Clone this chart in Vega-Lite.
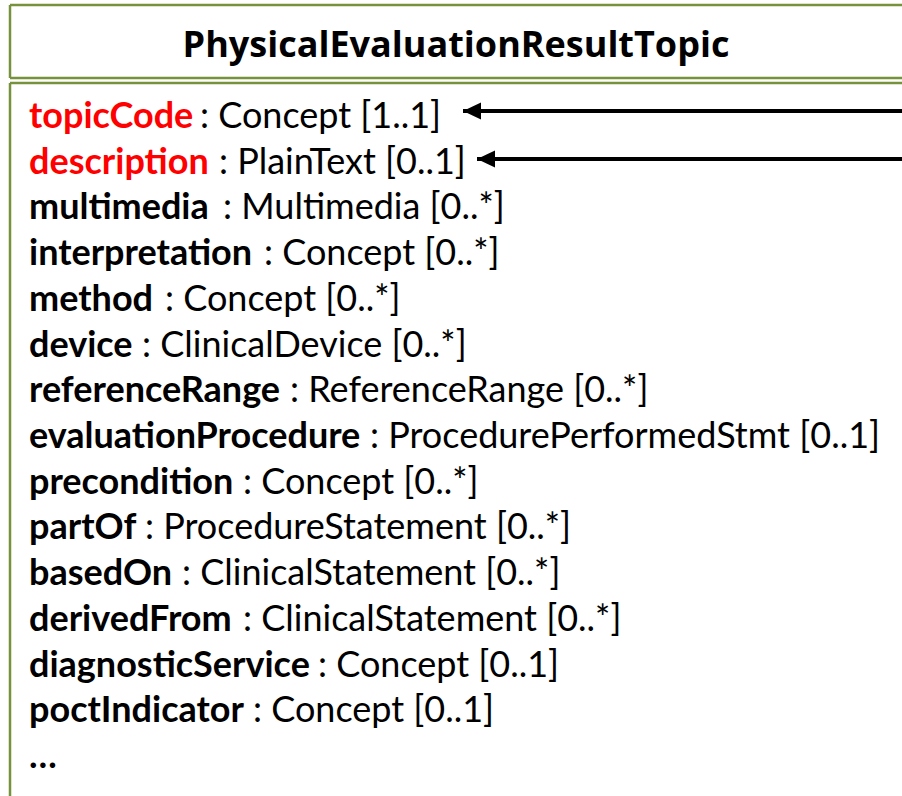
{
  "$schema": "https://vega.github.io/schema/vega-lite/v6.json",
  "width": 902,
  "height": 796,
  "padding": 0,
  "autosize": {"type": "none"},
  "background": "white",
  "config": {"view": {"stroke": null}, "font": "Lato"},
  "datasets": {
    "attrs": [
      {"line": 0, "name": "topicCode", "type": ": Concept [1..1]", "typeX": 200, "key": "yes"},
      {"line": 1, "name": "description", "type": ": PlainText [0..1]", "typeX": 219, "key": "yes"},
      {"line": 2, "name": "multimedia", "type": ": Multimedia [0..*]", "typeX": 223, "key": "no"},
      {"line": 3, "name": "interpretation", "type": ": Concept [0..*]", "typeX": 264, "key": "no"},
      {"line": 4, "name": "method", "type": ": Concept [0..*]", "typeX": 165, "key": "no"},
      {"line": 5, "name": "device", "type": ": ClinicalDevice [0..*]", "typeX": 142, "key": "no"},
      {"line": 6, "name": "referenceRange", "type": ": ReferenceRange [0..*]", "typeX": 290, "key": "no"},
      {"line": 7, "name": "evaluationProcedure", "type": ": ProcedurePerformedStmt [0..1]", "typeX": 370, "key": "no"},
      {"line": 8, "name": "precondition", "type": ": Concept [0..*]", "typeX": 243, "key": "no"},
      {"line": 9, "name": "partOf", "type": ": ProcedureStatement [0..*]", "typeX": 145, "key": "no"},
      {"line": 10, "name": "basedOn", "type": ": ClinicalStatement [0..*]", "typeX": 182, "key": "no"},
      {"line": 11, "name": "derivedFrom", "type": ": ClinicalStatement [0..*]", "typeX": 243, "key": "no"},
      {"line": 12, "name": "diagnosticService", "type": ": Concept [0..1]", "typeX": 318, "key": "no"},
      {"line": 13, "name": "poctIndicator", "type": ": Concept [0..1]", "typeX": 253, "key": "no"},
      {"line": 14, "name": "…", "type": "", "typeX": 60, "key": "no"}
    ],
    "borders": [
      {"part": "title top", "x": 10, "x2": 902, "y": 5, "y2": 5},
      {"part": "title left", "x": 10, "x2": 10, "y": 5, "y2": 78},
      {"part": "title bottom", "x": 10, "x2": 902, "y": 78, "y2": 78},
      {"part": "body top", "x": 10, "x2": 902, "y": 83, "y2": 83},
      {"part": "body left", "x": 10, "x2": 10, "y": 83, "y2": 796}
    ],
    "arrows": [
      {"target": "topicCode", "tip": 463, "x2": 902, "y": 111},
      {"target": "description", "tip": 477, "x2": 902, "y": 159}
    ]
  },
  "resolve": {"scale": {"y": "independent"}},
  "layer": [
    {
      "data": {"name": "borders"},
      "mark": {"type": "rule", "stroke": "#76923C", "strokeWidth": 2.5},
      "encoding": {
        "x": {"field": "x", "type": "quantitative", "scale": {"domain": [0, 902], "range": [0, 902]}, "axis": null},
        "x2": {"field": "x2"},
        "y": {"field": "y", "type": "quantitative", "scale": {"domain": [0, 796], "range": [0, 796]}, "axis": null},
        "y2": {"field": "y2"}
      }
    },
    {
      "data": {"name": "arrows"},
      "mark": {"type": "rule", "stroke": "#000000", "strokeWidth": 4},
      "encoding": {
        "x": {"field": "tip", "type": "quantitative", "scale": {"domain": [0, 902], "range": [0, 902]}, "axis": null},
        "x2": {"field": "x2"},
        "y": {"field": "y", "type": "quantitative", "scale": {"domain": [0, 796], "range": [0, 796]}, "axis": null}
      }
    },
    {
      "data": {"name": "arrows"},
      "mark": {"type": "point", "shape": "M0,0 L2,-0.95 L2,0.95 Z", "filled": true, "fill": "#000000", "stroke": null, "size": 324, "opacity": 1},
      "encoding": {
        "x": {"field": "tip", "type": "quantitative", "scale": {"domain": [0, 902], "range": [0, 902]}, "axis": null},
        "y": {"field": "y", "type": "quantitative", "scale": {"domain": [0, 796], "range": [0, 796]}, "axis": null}
      }
    },
    {
      "data": {"values": [{"title": "PhysicalEvaluationResultTopic"}]},
      "mark": {"type": "text", "font": "Open Sans", "fontWeight": "bold", "fontSize": 36, "align": "center", "baseline": "alphabetic", "color": "#000000"},
      "encoding": {
        "x": {"datum": 456, "type": "quantitative", "scale": {"domain": [0, 902], "range": [0, 902]}, "axis": null},
        "y": {"datum": 57, "type": "quantitative", "scale": {"domain": [0, 796], "range": [0, 796]}, "axis": null},
        "text": {"field": "title"}
      }
    },
    {
      "data": {"name": "attrs"},
      "mark": {"type": "text", "font": "Lato", "fontWeight": "bold", "fontSize": 36, "align": "left", "baseline": "alphabetic"},
      "encoding": {
        "x": {"datum": 29, "type": "quantitative", "scale": {"domain": [0, 902], "range": [0, 902]}, "axis": null},
        "y": {"field": "line", "type": "quantitative", "scale": {"domain": [0, 14], "range": [128, 768]}, "axis": null},
        "text": {"field": "name"},
        "color": {"field": "key", "type": "nominal", "scale": {"domain": ["yes", "no"], "range": ["#FF0000", "#000000"]}, "legend": null}
      }
    },
    {
      "data": {"name": "attrs"},
      "mark": {"type": "text", "font": "Lato", "fontWeight": "normal", "fontSize": 36, "align": "left", "baseline": "alphabetic", "color": "#000000"},
      "encoding": {
        "x": {"field": "typeX", "type": "quantitative", "scale": {"domain": [0, 902], "range": [0, 902]}, "axis": null},
        "y": {"field": "line", "type": "quantitative", "scale": {"domain": [0, 14], "range": [128, 768]}, "axis": null},
        "text": {"field": "type"}
      }
    }
  ]
}
